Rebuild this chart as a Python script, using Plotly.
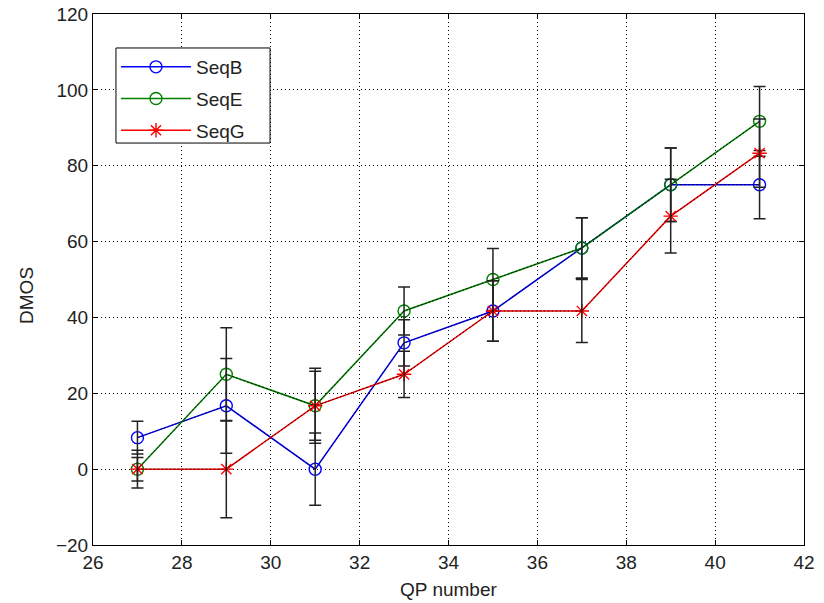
import plotly.graph_objects as go

qp = [27, 29, 31, 33, 35, 37, 39, 41]
seqB = [8.3, 16.7, 0.0, 33.3, 41.7, 58.3, 75.0, 75.0]
seqE = [0.0, 25.0, 16.7, 41.7, 50.0, 58.3, 75.0, 91.7]
seqG = [0.0, 0.0, 16.7, 25.0, 41.7, 41.7, 66.7, 83.3]
errB = [4.3, 12.5, 9.5, 6.1, 8.0, 8.0, 9.7, 9.0]
errE = [3.1, 12.3, 9.1, 6.3, 8.2, 8.0, 9.7, 9.2]
errG = [5.0, 12.8, 9.9, 6.1, 8.0, 8.3, 9.7, 9.0]
x_ticks = [26, 28, 30, 32, 34, 36, 38, 40, 42]
y_ticks = [-20, 0, 20, 40, 60, 80, 100, 120]

series = [
    ("SeqB", seqB, errB, "#0000ff", "circle-open"),
    ("SeqE", seqE, errE, "#008000", "circle-open"),
    ("SeqG", seqG, errG, "#ff0000", "asterisk-open"),
]

fig = go.Figure()
for name, ys, errs, col, sym in series:
    fig.add_trace(go.Scatter(
        x=qp, y=ys, name=name, mode="lines+markers", legendgroup=name,
        line=dict(color=col, width=1.5),
        marker=dict(symbol=sym, size=12, color=col, line=dict(color=col, width=1.4)),
    ))
    fig.add_trace(go.Scatter(
        x=qp, y=ys, mode="lines", showlegend=False, hoverinfo="skip", legendgroup=name,
        line=dict(color="rgba(0,0,0,0.75)", width=1, dash="2px,2px"),
        error_y=dict(type="data", array=errs, visible=True, color="#222222",
                     thickness=1.5, width=6),
    ))

font = "Liberation Sans, Arial, sans-serif"
tcol = "#222222"
axis_common = dict(
    showline=True, linecolor="black", linewidth=1, mirror="allticks",
    ticks="inside", ticklen=5, tickcolor="black", automargin=False,
    showgrid=True, gridcolor="black", griddash="1px,3px", gridwidth=1,
    zeroline=False, tickfont=dict(family=font, size=19, color=tcol),
)

fig.update_layout(
    width=824, height=603,
    margin=dict(l=93, r=20, t=14, b=58),
    paper_bgcolor="white", plot_bgcolor="white",
    font=dict(family=font, size=19, color=tcol),
    xaxis=dict(range=[26, 42], tickvals=x_ticks, **axis_common),
    yaxis=dict(range=[-20, 120], tickvals=y_ticks, **axis_common),
    legend=dict(x=0.0323, y=0.936, xanchor="left", yanchor="top",
                bgcolor="rgba(0,0,0,0)", borderwidth=0,
                font=dict(family=font, size=19, color=tcol),
                traceorder="grouped", tracegroupgap=4,
                itemwidth=70),
    shapes=[dict(type="rect", xref="paper", yref="paper",
                 x0=0.0323, x1=0.249, y0=0.757, y1=0.936,
                 fillcolor="white", line=dict(color="black", width=1), layer="above")],
    annotations=[
        dict(text="QP number", xref="paper", yref="paper", x=0.5, y=-0.0847,
             xanchor="center", yanchor="middle", showarrow=False,
             font=dict(family=font, size=19, color=tcol)),
        dict(text="DMOS", xref="paper", yref="paper", x=-0.0935, y=0.47,
             xanchor="center", yanchor="middle", showarrow=False, textangle=-90,
             font=dict(family=font, size=19, color=tcol)),
    ],
    showlegend=True,
)

fig.write_html("out.html")
